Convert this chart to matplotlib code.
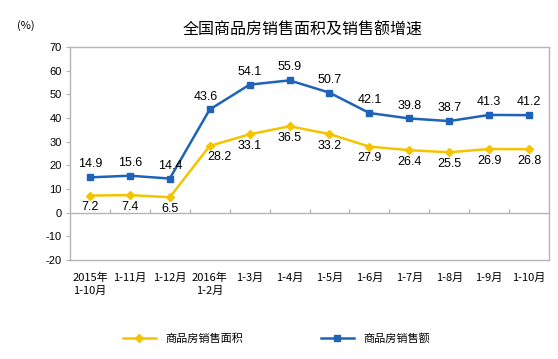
import numpy as np
import matplotlib
matplotlib.use("Agg")
from matplotlib import pyplot as plt

plt.rcParams['font.family'] = ['Liberation Sans', 'Noto Sans CJK SC', 'DejaVu Sans']
plt.rcParams['axes.unicode_minus'] = False

# data
periods = ["2015年\n1-10月", "1-11月", "1-12月", "2016年\n1-2月", "1-3月", "1-4月",
           "1-5月", "1-6月", "1-7月", "1-8月", "1-9月", "1-10月"]
area_growth = [7.2, 7.4, 6.5, 28.2, 33.1, 36.5, 33.2, 27.9, 26.4, 25.5, 26.9, 26.8]
sales_growth = [14.9, 15.6, 14.4, 43.6, 54.1, 55.9, 50.7, 42.1, 39.8, 38.7, 41.3, 41.2]
yticks = list(range(-20, 80, 10))

BLUE = '#1f63b8'
YELLOW = '#f5c400'
GREY = '#b4b4b4'
CJK = ['Noto Sans CJK SC', 'DejaVu Sans']

fig = plt.figure(figsize=(5.58, 3.59), dpi=100)
ax = fig.add_axes([0.1254, 0.276, 0.8586, 0.593])

x = np.arange(len(periods))
ax.plot(x, area_growth, color=YELLOW, lw=1.8, marker='D', ms=4.5, label='商品房销售面积')
ax.plot(x, sales_growth, color=BLUE, lw=1.8, marker='s', ms=4.5, label='商品房销售额')

# data labels
for i, v in enumerate(sales_growth):
	dx = -0.1 if i == 3 else 0
	ax.annotate(f"{v}", (i + dx, v), xytext=(0, 5), textcoords='offset points',
	            ha='center', va='bottom', fontsize=9)
for i, v in enumerate(area_growth):
	dx = 0.25 if i == 3 else 0
	ax.annotate(f"{v}", (i + dx, v), xytext=(0, -4), textcoords='offset points',
	            ha='center', va='top', fontsize=9)

ax.set_xlim(-0.5, len(periods) - 0.5)
ax.set_ylim(-20, 70)
ax.set_yticks(yticks)
ax.tick_params(axis='y', length=3, color=GREY, labelsize=8, pad=3)
ax.set_xticks(x)
ax.set_xticklabels(periods, fontsize=8, family=CJK, linespacing=1.4)
ax.tick_params(axis='x', length=0, pad=9)

# zero line with category tick marks
ax.axhline(0, color=GREY, lw=1)
ax.vlines(x[:-1] + 0.5, 0, 1.6, color=GREY, lw=1)

for s in ax.spines.values():
	s.set_color(GREY)
	s.set_linewidth(1)

fig.text(0.543, 0.915, '全国商品房销售面积及销售额增速', ha='center', va='center',
         fontsize=11.5, family=CJK)
fig.text(0.047, 0.93, '(%)', ha='center', va='center', fontsize=8, family=CJK)

leg = fig.legend(loc='center', bbox_to_anchor=(0.495, 0.058), ncol=2, frameon=False,
                 columnspacing=7, handlelength=3, prop={'family': CJK, 'size': 8})

fig.savefig('out.png', dpi=100)
